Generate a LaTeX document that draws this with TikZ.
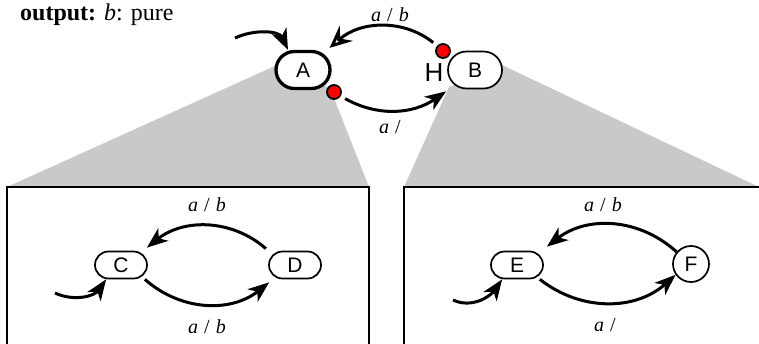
\documentclass[tikz,border=0pt]{standalone}
\usepackage{fontspec}
\setmainfont{Liberation Serif}
\setsansfont{Liberation Sans}
\usetikzlibrary{arrows.meta, calc}
\colorlet{zoomG}{black!21}
\colorlet{eventR}{red!100!black}
\tikzset{
	state/.style={draw=black, line width=1.7pt, fill=white, rectangle, rounded corners=13.5pt,
		minimum width=52pt, minimum height=27pt, inner sep=0pt, font=\sffamily\fontsize{21}{23}\selectfont},
	bigstate/.style={state, rounded corners=18.5pt, minimum width=54pt, minimum height=37pt},
	finalstate/.style={state, circle, minimum size=36pt},
	trans/.style={line width=3pt, -{Stealth[length=21pt, width=16pt, inset=6pt]}},
	opentrans/.style={line width=3pt, -{Stealth[open, length=22pt, width=20pt, inset=8pt, line width=3pt]}},
	dot/.style={circle, fill=eventR, draw=black, line width=1.8pt, minimum size=14pt, inner sep=0pt},
	lbl/.style={font=\fontsize{20}{22}\selectfont}
}
\newcommand{\trlabel}[2]{\textit{#1}\hspace{0.3em}/\hspace{0.3em}\textit{#2}}

\begin{document}
\begin{tikzpicture}[x=1pt, y=1pt]
	\useasboundingbox (0,0) rectangle (759,343);

	% Zoom shading behind the top states
	\fill[zoomG] (277,278) -- (330,255) -- (369,156) -- (7,156) -- cycle;
	\fill[zoomG] (502,278) -- (449,256) -- (404,156) -- (759,156) -- cycle;

	% Refinement boxes
	\begin{scope}
		\clip (0,0) rectangle (759,343);
		\draw[line width=2pt, fill=white] (7,156) rectangle (369,-5);
		\draw[line width=2pt, fill=white] (404,156) rectangle (765,-5);
	\end{scope}

	\node[anchor=base west, inner sep=0pt, font=\fontsize{24}{26}\selectfont] (out) at (20,322)
		{\textbf{output:} \textit{b}: pure};

	% Top level
	\node[bigstate, line width=3.3pt] (A) at (303,273) {A};
	\node[bigstate] (B) at (475,273) {B};
	\node[font=\sffamily\fontsize{26}{28}\selectfont] (H) at (434,270) {H};
	\node[dot] (dB) at (443,292) {};
	\node[dot] (dA) at (334,251) {};
	\coordinate (iA) at (235,305);

	\draw[trans] (iA) to[out=25, in=115] ([xshift=-15pt]A.north);
	\draw[opentrans, shorten <=5pt] (dB) to[bend right=40] ([shift={(-2pt,2pt)}]A.north east);
	\draw[trans, shorten <=5pt] (dA) to[bend right=32] ([shift={(-1pt,-2pt)}]B.south west);
	\node[lbl] (lAB) at (390,328) {\trlabel{a}{b}};
	\node[lbl] (lBA) at (390,216) {\textit{a}\hspace{0.3em}/};

	% Left refinement
	\node[state] (C) at (121,78) {C};
	\node[state] (D) at (295,78) {D};
	\coordinate (iC) at (55,50);
	\draw[trans] (iC) to[out=-25, in=235] ([xshift=12pt]C.south west);
	\draw[trans, shorten <=3pt] (D.north west) to[bend right=40] ([shift={(-1pt,3pt)}]C.north east);
	\draw[trans] ([xshift=-3pt]C.south east) to[bend right=40] ([shift={(1pt,-3pt)}]D.south west);
	\node[lbl] (lDC) at (207,138) {\trlabel{a}{b}};
	\node[lbl] (lCD) at (207,16) {\trlabel{a}{b}};

	% Right refinement
	\node[state] (E) at (517,78) {E};
	\node[finalstate] (F) at (691,79) {F};
	\coordinate (iE) at (453,43);
	\draw[trans] (iE) to[out=-25, in=235] ([xshift=12pt]E.south west);
	\draw[trans] (F.140) to[bend right=40] ([shift={(3pt,4pt)}]E.north east);
	\draw[trans] ([xshift=-4pt]E.south east) to[bend right=40] (F.215);
	\node[lbl] (lFE) at (603,138) {\trlabel{a}{b}};
	\node[lbl] (lEF) at (605,18) {\textit{a}\hspace{0.3em}/};
\end{tikzpicture}
\end{document}
